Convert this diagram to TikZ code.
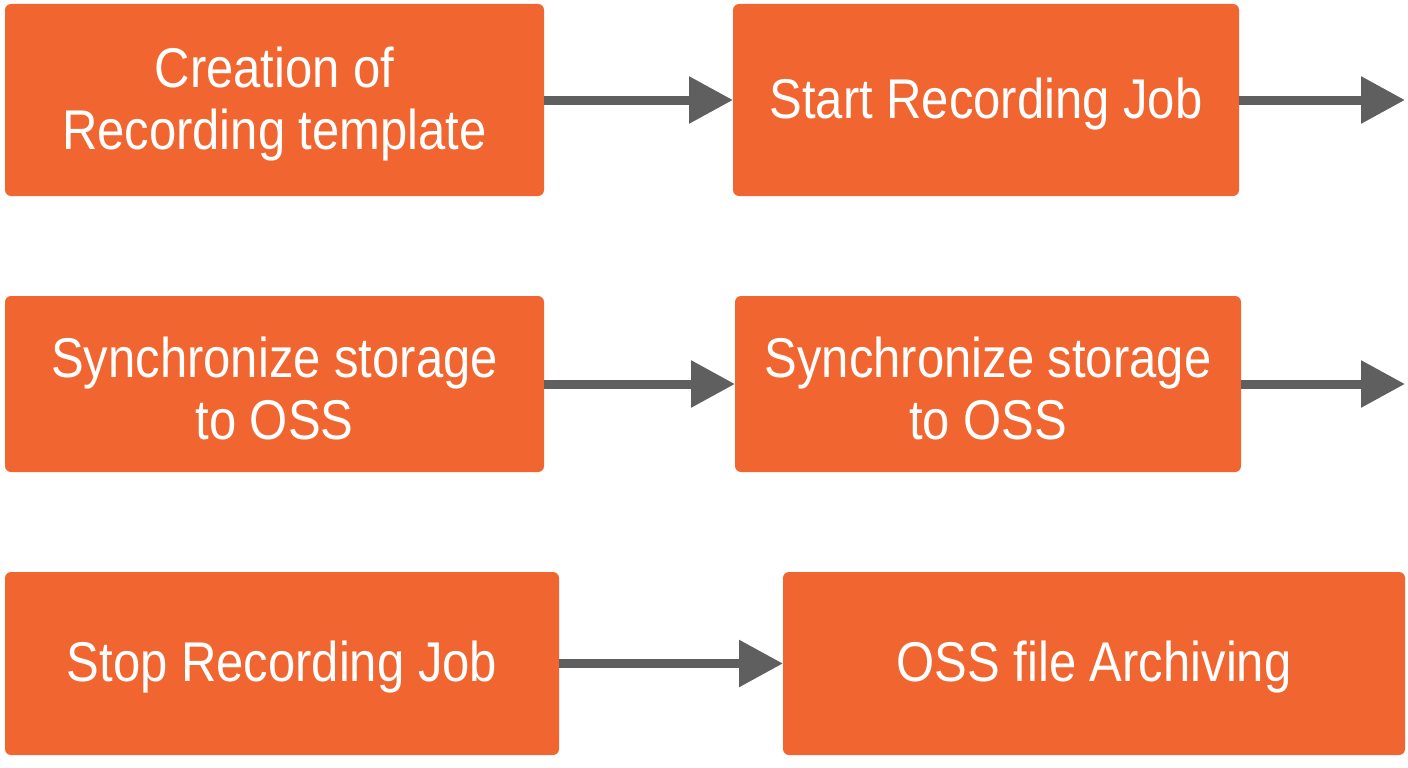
\documentclass[tikz,border=0pt]{standalone}
\usepackage{fontspec}
\setmainfont[FakeStretch=0.875]{Liberation Sans}
\usetikzlibrary{arrows.meta}
\definecolor{boxorange}{HTML}{F16630}
\definecolor{arrowgray}{HTML}{5F5F5F}
\tikzset{
  stepbox/.style={fill=boxorange, rounded corners=6pt, inner sep=0pt, outer sep=0pt},
  steptext/.style={text=white, align=center, inner sep=0pt, yshift=-4pt,
    font=\fontsize{56}{62}\selectfont},
  flow/.style={draw=arrowgray, line width=9pt,
    -{Triangle[length=44pt, width=45pt]}}
}
\begin{document}
\begin{tikzpicture}[x=1pt,y=-1pt]
\useasboundingbox (0,0) rectangle (1408,768);
\node[stepbox, minimum width=539pt, minimum height=192pt] (a) at (274.5,100) {};
\node[stepbox, minimum width=506pt, minimum height=192pt] (b) at (986,100) {};
\node[stepbox, minimum width=539pt, minimum height=176pt] (c) at (274.5,384) {};
\node[stepbox, minimum width=506pt, minimum height=176pt] (d) at (988,384) {};
\node[stepbox, minimum width=554pt, minimum height=183pt] (e) at (282,663.5) {};
\node[stepbox, minimum width=622pt, minimum height=183pt] (f) at (1094,663.5) {};
\node[steptext] (ta) at (a.center) {Creation of\\Recording template};
\node[steptext] (tb) at (b.center) {Start Recording Job};
\node[steptext] (tc) at (c.center) {Synchronize storage\\to OSS};
\node[steptext] (td) at (d.center) {Synchronize storage\\to OSS};
\node[steptext] (te) at (e.center) {Stop Recording Job};
\node[steptext] (tf) at (f.center) {OSS file Archiving};
\coordinate (bend) at (1405,100);
\coordinate (dend) at (1405,384);
\draw[flow] (a.east) -- (b.west);
\draw[flow] (b.east) -- (bend);
\draw[flow] (c.east) -- (d.west);
\draw[flow] (d.east) -- (dend);
\draw[flow] (e.east) -- (f.west);
\end{tikzpicture}
\end{document}
